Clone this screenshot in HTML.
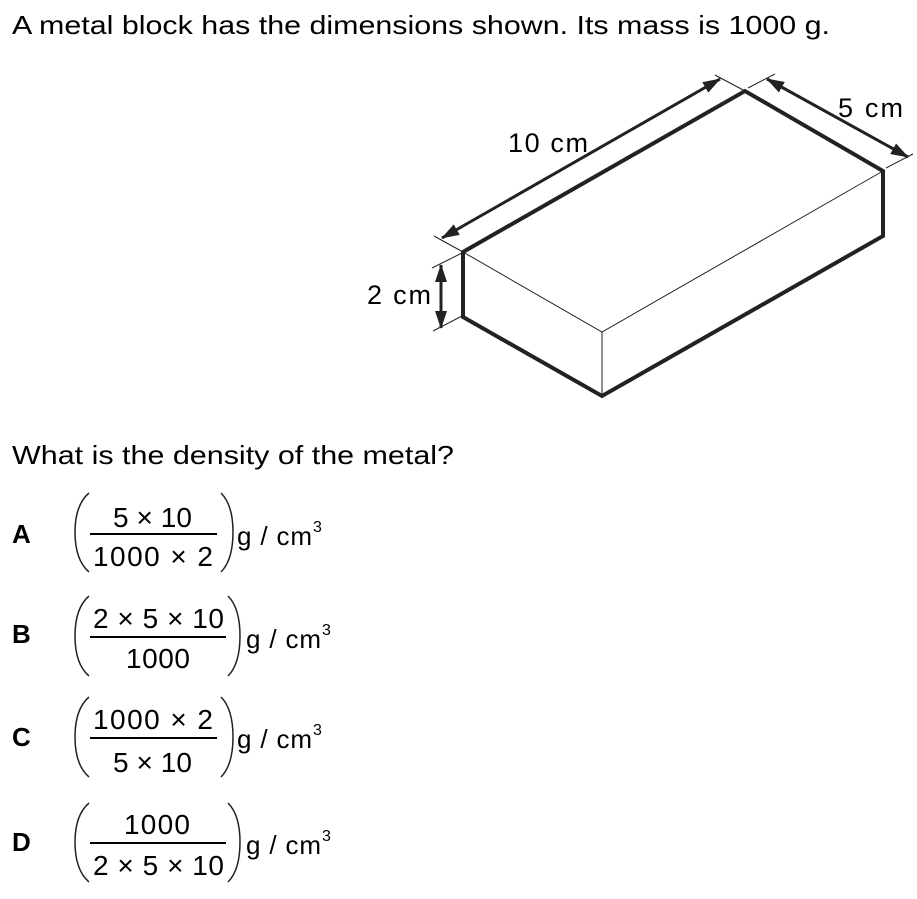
<!DOCTYPE html>
<html><head><meta charset="utf-8"><style>
html,body{margin:0;padding:0;background:#fff;}
svg{display:block;}
text{font-family:"Liberation Sans",Arial,sans-serif;fill:#000;}
</style></head><body>
<svg width="917" height="899" viewBox="0 0 917 899" xmlns="http://www.w3.org/2000/svg">
<defs>
<marker id="ah2" markerWidth="18" markerHeight="12" refX="17" refY="6" orient="auto-start-reverse" markerUnits="userSpaceOnUse">
<path d="M0,0 L18,6 L0,12 Z" fill="#222"/></marker>
</defs>
<text x="12" y="34" font-size="26" textLength="818" lengthAdjust="spacingAndGlyphs">A metal block has the dimensions shown. Its mass is 1000 g.</text>

<g stroke="#222" fill="none" stroke-linejoin="miter">
<path d="M463,252 L602,332 L883,171 M602,332 L602,396" stroke-width="1"/>
<path d="M463,252 L745,91 L883,171 L883,236 L602,396 L463,317 Z" stroke-width="4"/>
<path d="M434,236 L463,252 M715,75 L745,91 M748,88 L775,74 M886,168 L913,154 M432,268 L462,253 M433,331 L462,316" stroke-width="1"/>
<line x1="442" y1="238" x2="720" y2="79" stroke-width="3" marker-start="url(#ah2)" marker-end="url(#ah2)"/>
<line x1="767" y1="79" x2="908" y2="157" stroke-width="3" marker-start="url(#ah2)" marker-end="url(#ah2)"/>
<line x1="441" y1="265" x2="441" y2="328" stroke-width="3" marker-start="url(#ah2)" marker-end="url(#ah2)"/>
</g>
<text x="508" y="152" font-size="27" textLength="80" lengthAdjust="spacing">10 cm</text>
<text x="838" y="117" font-size="27" textLength="65" lengthAdjust="spacing">5 cm</text>
<text x="367" y="304" font-size="27" textLength="64" lengthAdjust="spacing">2 cm</text>

<text x="12" y="464" font-size="26" textLength="442" lengthAdjust="spacingAndGlyphs">What is the density of the metal?</text>

<g font-size="28">
<!-- A -->
<text x="12" y="543" font-size="26" font-weight="bold">A</text>
<path d="M89,493 Q75,505 75,532 Q75,560 89,572 M221,493 Q233,505 233,532 Q233,560 221,572" stroke="#222" stroke-width="1.5" fill="none"/>
<text x="113" y="527" textLength="79" lengthAdjust="spacing">5 × 10</text>
<line x1="90" y1="534" x2="217" y2="534" stroke="#000" stroke-width="2"/>
<text x="93" y="566" textLength="120" lengthAdjust="spacing">1000 × 2</text>
<text x="237" y="545" font-size="26" textLength="75" lengthAdjust="spacing">g / cm</text>
<text x="313" y="532" font-size="16">3</text>

<!-- B -->
<text x="12" y="643" font-size="26" font-weight="bold">B</text>
<path d="M89,596 Q75,608 75,636 Q75,664 89,676 M228,596 Q240,608 240,636 Q240,664 228,676" stroke="#222" stroke-width="1.5" fill="none"/>
<text x="93" y="628" textLength="131" lengthAdjust="spacing">2 × 5 × 10</text>
<line x1="90" y1="637" x2="226" y2="637" stroke="#000" stroke-width="2"/>
<text x="126" y="668" textLength="64" lengthAdjust="spacing">1000</text>
<text x="246" y="648" font-size="26" textLength="75" lengthAdjust="spacing">g / cm</text>
<text x="322" y="635" font-size="16">3</text>

<!-- C -->
<text x="12" y="746" font-size="26" font-weight="bold">C</text>
<path d="M89,697 Q75,709 75,737 Q75,765 89,777 M221,697 Q233,709 233,737 Q233,765 221,777" stroke="#222" stroke-width="1.5" fill="none"/>
<text x="93" y="729" textLength="120" lengthAdjust="spacing">1000 × 2</text>
<line x1="90" y1="738" x2="217" y2="738" stroke="#000" stroke-width="2"/>
<text x="113" y="772" textLength="79" lengthAdjust="spacing">5 × 10</text>
<text x="237" y="748" font-size="26" textLength="75" lengthAdjust="spacing">g / cm</text>
<text x="313" y="735" font-size="16">3</text>

<!-- D -->
<text x="12" y="851" font-size="26" font-weight="bold">D</text>
<path d="M89,803 Q75,815 75,842 Q75,870 89,882 M228,803 Q240,815 240,842 Q240,870 228,882" stroke="#222" stroke-width="1.5" fill="none"/>
<text x="124" y="834" textLength="66" lengthAdjust="spacing">1000</text>
<line x1="90" y1="843" x2="226" y2="843" stroke="#000" stroke-width="2"/>
<text x="93" y="875" textLength="131" lengthAdjust="spacing">2 × 5 × 10</text>
<text x="246" y="854" font-size="26" textLength="75" lengthAdjust="spacing">g / cm</text>
<text x="322" y="841" font-size="16">3</text>
</g>
</svg>
</body></html>
